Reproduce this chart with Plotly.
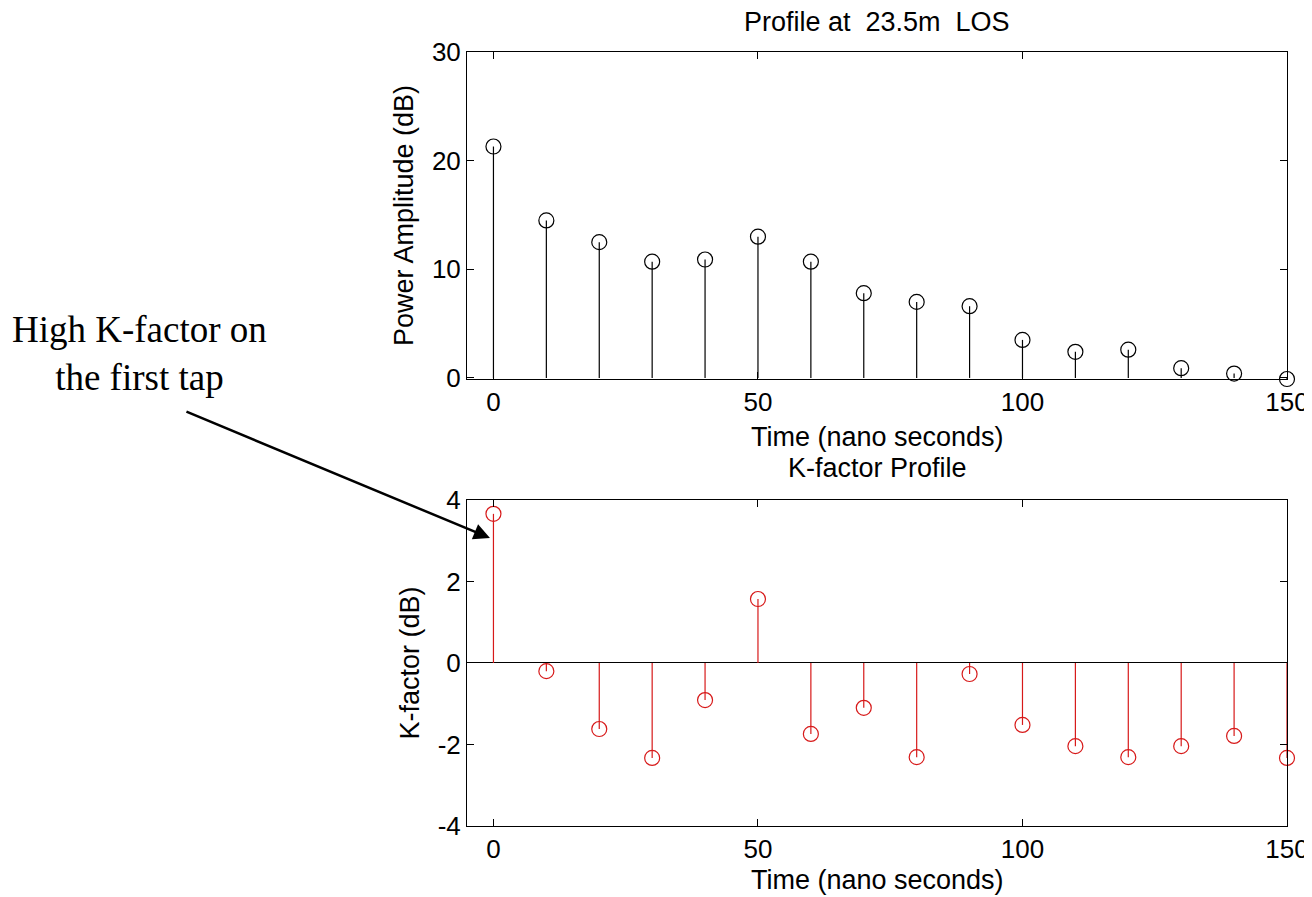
import plotly.graph_objects as go

time_ns = [0, 10, 20, 30, 40, 50, 60, 70, 80, 90, 100, 110, 120, 130, 140, 150]
power_db = [21.3, 14.5, 12.5, 10.7, 10.9, 13.0, 10.7, 7.8, 7.0, 6.6, 3.5, 2.4, 2.6, 0.9, 0.4, -0.1]
kfactor_db = [3.66, -0.20, -1.62, -2.33, -0.91, 1.57, -1.74, -1.10, -2.31, -0.27, -1.52, -2.04, -2.31, -2.04, -1.79, -2.33]

x_ticks = [0, 50, 100, 150]
y1_ticks = [0, 10, 20, 30]
y2_ticks = [-4, -2, 0, 2, 4]
y2_labels = ["-4", "-2", "0", "2", "4"]

FONT = "Liberation Sans, Arial, sans-serif"
RED = "rgb(215,25,25)"
TICK_SIZE = 26
LABEL_SIZE = 27


def stems(xs, ys):
    sx, sy = [], []
    for x, y in zip(xs, ys):
        sx += [x, x, None]
        sy += [0, y, None]
    return sx, sy


fig = go.Figure()

sx, sy = stems(time_ns, power_db)
fig.add_trace(go.Scatter(x=sx, y=sy, mode="lines", line=dict(color="black", width=1.2),
                         xaxis="x", yaxis="y", hoverinfo="skip", showlegend=False, cliponaxis=False))
fig.add_trace(go.Scatter(x=time_ns, y=power_db, mode="markers",
                         marker=dict(symbol="circle-open", size=15, color="black", line=dict(width=1.2)),
                         xaxis="x", yaxis="y", showlegend=False, cliponaxis=False))

sx2, sy2 = stems(time_ns, kfactor_db)
fig.add_trace(go.Scatter(x=sx2, y=sy2, mode="lines", line=dict(color=RED, width=1.2),
                         xaxis="x2", yaxis="y2", hoverinfo="skip", showlegend=False, cliponaxis=False))
fig.add_trace(go.Scatter(x=time_ns, y=kfactor_db, mode="markers",
                         marker=dict(symbol="circle-open", size=15, color=RED, line=dict(width=1.2)),
                         xaxis="x2", yaxis="y2", showlegend=False, cliponaxis=False))

axis_common = dict(showgrid=False, ticks="inside", ticklen=7, tickcolor="black",
                   showline=True, linecolor="black", linewidth=1, mirror="ticks",
                   tickfont=dict(family=FONT, size=TICK_SIZE, color="black"), zeroline=False,
                   automargin=False, ticklabeloverflow="allow")
title_font = dict(family=FONT, size=LABEL_SIZE, color="black")

fig.update_layout(
    width=1304, height=889,
    margin=dict(l=459, r=25, t=44, b=71),
    paper_bgcolor="white", plot_bgcolor="white",
    xaxis=dict(domain=[0, 1], range=[-5, 150], tickvals=x_ticks, anchor="y", **axis_common),
    yaxis=dict(domain=[0.5775, 1], range=[min(power_db), 30], tickvals=y1_ticks, anchor="x",
               title=dict(text="Power Amplitude (dB)", font=title_font, standoff=10),
               **axis_common),
    xaxis2=dict(domain=[0, 1], range=[-5, 150], tickvals=x_ticks, anchor="y2", **axis_common),
    yaxis2=dict(domain=[0, 0.4212], range=[-4, 4], tickvals=y2_ticks, ticktext=y2_labels, anchor="x2",
                title=dict(text="K-factor (dB)", font=title_font, standoff=10),
                **{**axis_common, "zeroline": True, "zerolinecolor": "black", "zerolinewidth": 1}),
)

fig.add_annotation(text="Profile at  23.5m  LOS", xref="paper", yref="paper", x=0.5, y=1.0388,
                   xanchor="center", yanchor="middle", showarrow=False, font=title_font)
fig.add_annotation(text="Time (nano seconds)", xref="paper", yref="paper", x=0.5, y=0.5026,
                   xanchor="center", yanchor="middle", showarrow=False, font=title_font)
fig.add_annotation(text="K-factor Profile", xref="paper", yref="paper", x=0.5, y=0.4625,
                   xanchor="center", yanchor="middle", showarrow=False, font=title_font)
fig.add_annotation(text="Time (nano seconds)", xref="paper", yref="paper", x=0.5, y=-0.0698,
                   xanchor="center", yanchor="middle", showarrow=False, font=title_font)

fig.add_annotation(text="High K-factor on<br>the first tap", xref="paper", yref="paper",
                   x=-0.399, y=0.610, xanchor="center", yanchor="middle", showarrow=False, align="center",
                   font=dict(family="Liberation Serif, Times New Roman, serif", size=37, color="black"))
fig.add_annotation(text="", xref="paper", yref="paper", x=0.028, y=0.372,
                   ax=-305, ay=-127, axref="pixel", ayref="pixel",
                   showarrow=True, arrowhead=2, arrowsize=1.3, arrowwidth=2.5, arrowcolor="black")

fig.write_html("out.html")
